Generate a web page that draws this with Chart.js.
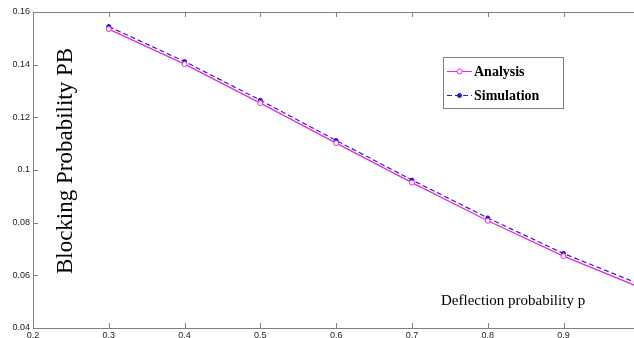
<!DOCTYPE html>
<html>
<head>
<meta charset="utf-8">
<script src="https://cdn.jsdelivr.net/npm/chart.js@4"></script>
<style>
  body { margin: 0; background: #fff; overflow: hidden; }
  #wrap { position: relative; width: 634px; height: 338px; }
</style>
</head>
<body>
<div id="wrap"><canvas id="pbChart"></canvas></div>
<script>
// deflection probability p
var pValues = [0.3, 0.4, 0.5, 0.6, 0.7, 0.8, 0.9, 1.0];
var analysis = [0.1535, 0.1402, 0.1254, 0.1102, 0.0952, 0.0807, 0.0673, 0.0555];
var simulation = [0.1545, 0.1412, 0.1265, 0.1112, 0.0962, 0.0818, 0.0683, 0.0567];
var xTicks = [0.2, 0.3, 0.4, 0.5, 0.6, 0.7, 0.8, 0.9];
var yTicks = [0.04, 0.06, 0.08, 0.1, 0.12, 0.14, 0.16];

var axisGray = "#808080";

function toPoints(ys) {
    return pValues.map(function (x, i) { return { x: x, y: ys[i] }; });
}

// inward tick marks, top box line, titles and legend box
var decorations = {
    id: "decorations",
    afterDraw: function (chart) {
        var ctx = chart.ctx;
        var a = chart.chartArea;
        var xs = chart.scales.x;
        var ys = chart.scales.y;
        ctx.save();
        ctx.strokeStyle = axisGray;
        ctx.lineWidth = 1;
        ctx.beginPath();
        ctx.moveTo(a.left, a.top + 0.5);
        ctx.lineTo(a.right, a.top + 0.5);
        xTicks.forEach(function (v) {
            var px = Math.round(xs.getPixelForValue(v)) + 0.5;
            ctx.moveTo(px, a.bottom);
            ctx.lineTo(px, a.bottom - 5);
            ctx.moveTo(px, a.top);
            ctx.lineTo(px, a.top + 5);
        });
        yTicks.forEach(function (v) {
            var py = Math.round(ys.getPixelForValue(v)) + 0.5;
            ctx.moveTo(a.left, py);
            ctx.lineTo(a.left + 5, py);
        });
        ctx.stroke();

        // axis titles inside the plot
        ctx.fillStyle = "#000";
        ctx.font = "23px 'Liberation Serif'";
        ctx.textAlign = "center";
        ctx.textBaseline = "alphabetic";
        ctx.save();
        ctx.translate(72, 161);
        ctx.rotate(-Math.PI / 2);
        ctx.fillText("Blocking Probability PB", 0, 0);
        ctx.restore();
        ctx.font = "15px 'Liberation Serif'";
        ctx.textAlign = "left";
        ctx.fillText("Deflection probability p", 441, 305);

        // legend
        ctx.fillStyle = "#fff";
        ctx.fillRect(443, 57, 120, 52);
        ctx.strokeStyle = axisGray;
        ctx.strokeRect(443.5, 57.5, 120, 51);
        ctx.font = "bold 14px 'Liberation Serif'";
        ctx.fillStyle = "#000";
        var rows = [76, 100];
        chart.data.datasets.forEach(function (ds, i) {
            var y = rows[i] - 4.5;
            ctx.strokeStyle = ds.borderColor;
            ctx.lineWidth = 1;
            ctx.setLineDash(ds.borderDash || []);
            ctx.beginPath();
            ctx.moveTo(447, y);
            ctx.lineTo(472, y);
            ctx.stroke();
            ctx.setLineDash([]);
            ctx.beginPath();
            ctx.arc(459.5, y, ds.pointRadius, 0, Math.PI * 2);
            ctx.fillStyle = ds.pointBackgroundColor;
            ctx.fill();
            ctx.strokeStyle = ds.pointBorderColor;
            ctx.stroke();
            ctx.fillStyle = "#000";
            ctx.fillText(ds.label, 474, rows[i]);
        });
        ctx.restore();
    }
};

new Chart(document.getElementById("pbChart"), {
    type: "line",
    data: {
        datasets: [
            {
                label: "Analysis",
                data: toPoints(analysis),
                borderColor: "#ee22ee",
                borderWidth: 1.2,
                pointRadius: 2.5,
                pointBorderWidth: 1,
                pointBorderColor: "#ee22ee",
                pointBackgroundColor: "#ffffff",
                fill: false,
                tension: 0
            },
            {
                label: "Simulation",
                data: toPoints(simulation),
                borderColor: "#2626b8",
                borderWidth: 1.2,
                borderDash: [5, 3],
                pointRadius: 2,
                pointBorderWidth: 1,
                pointBorderColor: "#1a1ad0",
                pointBackgroundColor: "#1a1ad0",
                fill: false,
                tension: 0
            }
        ]
    },
    options: {
        responsive: true,
        maintainAspectRatio: false,
        animation: false,
        layout: {
            autoPadding: false,
            padding: { top: 12, right: 0, left: 0, bottom: 0 }
        },
        plugins: {
            legend: { display: false },
            tooltip: { enabled: false }
        },
        scales: {
            x: {
                type: "linear",
                min: 0.2,
                max: 0.993,
                afterFit: function (s) {
                    s.height = 10;
                    s.paddingRight = 0;
                    s.paddingLeft = 0;
                },
                afterBuildTicks: function (s) {
                    s.ticks = xTicks.map(function (v) { return { value: v }; });
                },
                grid: { drawOnChartArea: false, drawTicks: false },
                border: { display: true, color: axisGray, width: 1 },
                ticks: {
                    padding: 2,
                    color: "#222",
                    font: { family: "'Liberation Sans'", size: 9 },
                    maxRotation: 0,
                    callback: function (v) { return String(+v.toFixed(2)); }
                }
            },
            y: {
                min: 0.04,
                max: 0.16,
                afterFit: function (s) { s.width = 33; },
                afterBuildTicks: function (s) {
                    s.ticks = yTicks.map(function (v) { return { value: v }; });
                },
                grid: { drawOnChartArea: false, drawTicks: false },
                border: { display: true, color: axisGray, width: 1 },
                ticks: {
                    padding: 3,
                    color: "#222",
                    font: { family: "'Liberation Sans'", size: 9 },
                    callback: function (v) { return String(+v.toFixed(2)); }
                }
            }
        }
    },
    plugins: [decorations]
});
</script>
</body>
</html>
